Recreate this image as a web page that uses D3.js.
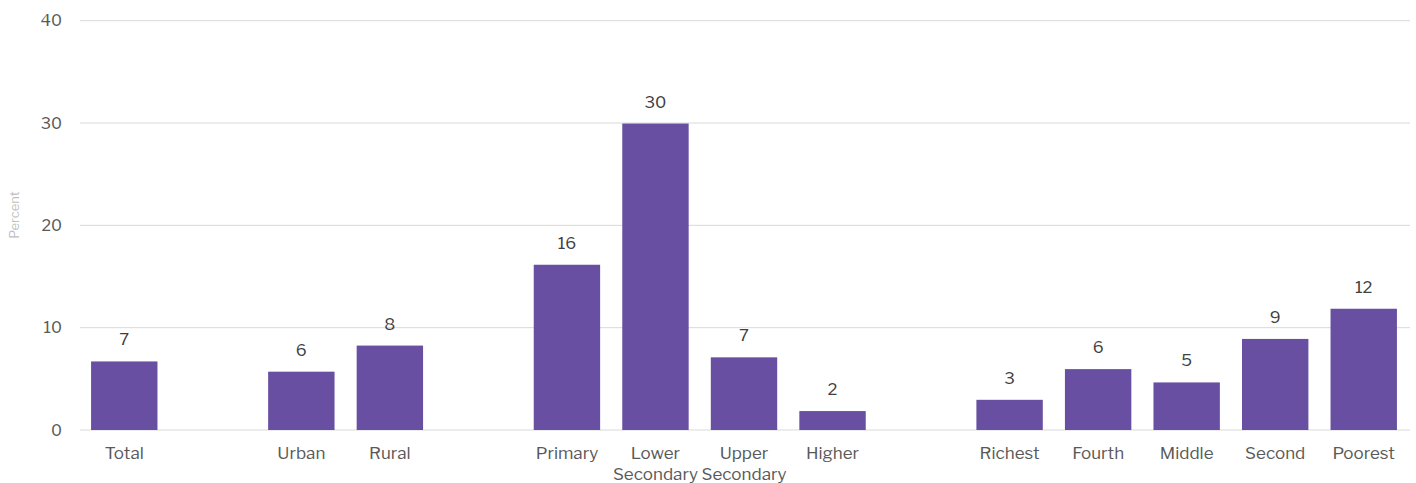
<!DOCTYPE html>
<html>
<head>
<meta charset="utf-8">
<script src="https://cdn.jsdelivr.net/npm/d3@7"></script>
<style>
  html, body { margin: 0; padding: 0; background: #fff; }
  svg { display: block; }
  text { font-family: "Libre Franklin", "Liberation Sans", "Noto Sans", sans-serif; }
</style>
</head>
<body>
<svg id="chart" width="1416" height="483"></svg>
<script>
const groups = [
  ["Total"],
  ["Urban", "Rural"],
  ["Primary", "Lower Secondary", "Upper Secondary", "Higher"],
  ["Richest", "Fourth", "Middle", "Second", "Poorest"]
];
const categories = ["Total", "Urban", "Rural", "Primary", "Lower Secondary", "Upper Secondary", "Higher",
                    "Richest", "Fourth", "Middle", "Second", "Poorest"];
const values = [6.7, 5.7, 8.25, 16.15, 29.95, 7.1, 1.85, 2.95, 5.95, 4.65, 8.9, 11.85];
const labels = ["7", "6", "8", "16", "30", "7", "2", "3", "6", "5", "9", "12"];
const yTicks = [0, 10, 20, 30, 40];

(function () {
const svg = d3.select("#chart");
const mLeft = 80, mRight = 1408, mTop = 20.7, mBottom = 430;

// build band domain with gaps between groups
const domain = [];
groups.forEach((g, i) => {
  if (i > 0) domain.push("__gap" + i);
  g.forEach(c => domain.push(c));
});

const x = d3.scaleBand().domain(domain).range([mLeft, mRight]).paddingInner(0.25).paddingOuter(0.125);
const y = d3.scaleLinear().domain([0, 40]).range([mBottom, mTop]);

// gridlines
svg.append("g").selectAll("line").data(yTicks).join("line")
  .attr("x1", mLeft).attr("x2", 1410)
  .attr("y1", d => y(d)).attr("y2", d => y(d))
  .attr("stroke", "#d9d9d9").attr("stroke-width", 1);

// y axis labels
const yAxis = d3.axisLeft(y).tickValues(yTicks).tickSize(0).tickPadding(0);
const ya = svg.append("g").attr("transform", `translate(62,0)`).call(yAxis);
ya.select(".domain").remove();
ya.selectAll("text").attr("font-size", 16).attr("fill", "#595959")
  .style("font-family", '"Libre Franklin", "Liberation Sans", "Noto Sans", sans-serif');

// y title
svg.append("text")
  .attr("transform", `translate(19,215) rotate(-90)`)
  .attr("text-anchor", "middle")
  .attr("font-size", 13)
  .attr("fill", "#bfbfbf")
  .text("Percent");

const data = categories.map((c, i) => ({ c, v: values[i], l: labels[i] }));

// bars
svg.append("g").selectAll("rect").data(data).join("rect")
  .attr("x", d => x(d.c))
  .attr("width", x.bandwidth())
  .attr("y", d => y(d.v))
  .attr("height", d => y(0) - y(d.v))
  .attr("fill", "#684fa1");

// value labels
svg.append("g").selectAll("text").data(data).join("text")
  .attr("x", d => x(d.c) + x.bandwidth() / 2)
  .attr("y", d => y(d.v) - 16)
  .attr("text-anchor", "middle")
  .attr("font-size", 16.5)
  .attr("fill", "#404040")
  .text(d => d.l);

// x axis labels
const xl = svg.append("g").selectAll("text").data(data).join("text")
  .attr("x", d => x(d.c) + x.bandwidth() / 2)
  .attr("y", 459)
  .attr("text-anchor", "middle")
  .attr("font-size", 17)
  .attr("fill", "#595959");
xl.each(function(d) {
  const words = d.c.split(" ");
  const t = d3.select(this);
  words.forEach((w, i) => {
    t.append("tspan")
      .attr("x", x(d.c) + x.bandwidth() / 2)
      .attr("dy", i === 0 ? 0 : 21)
      .text(w);
  });
});
})();
</script>
</body>
</html>
